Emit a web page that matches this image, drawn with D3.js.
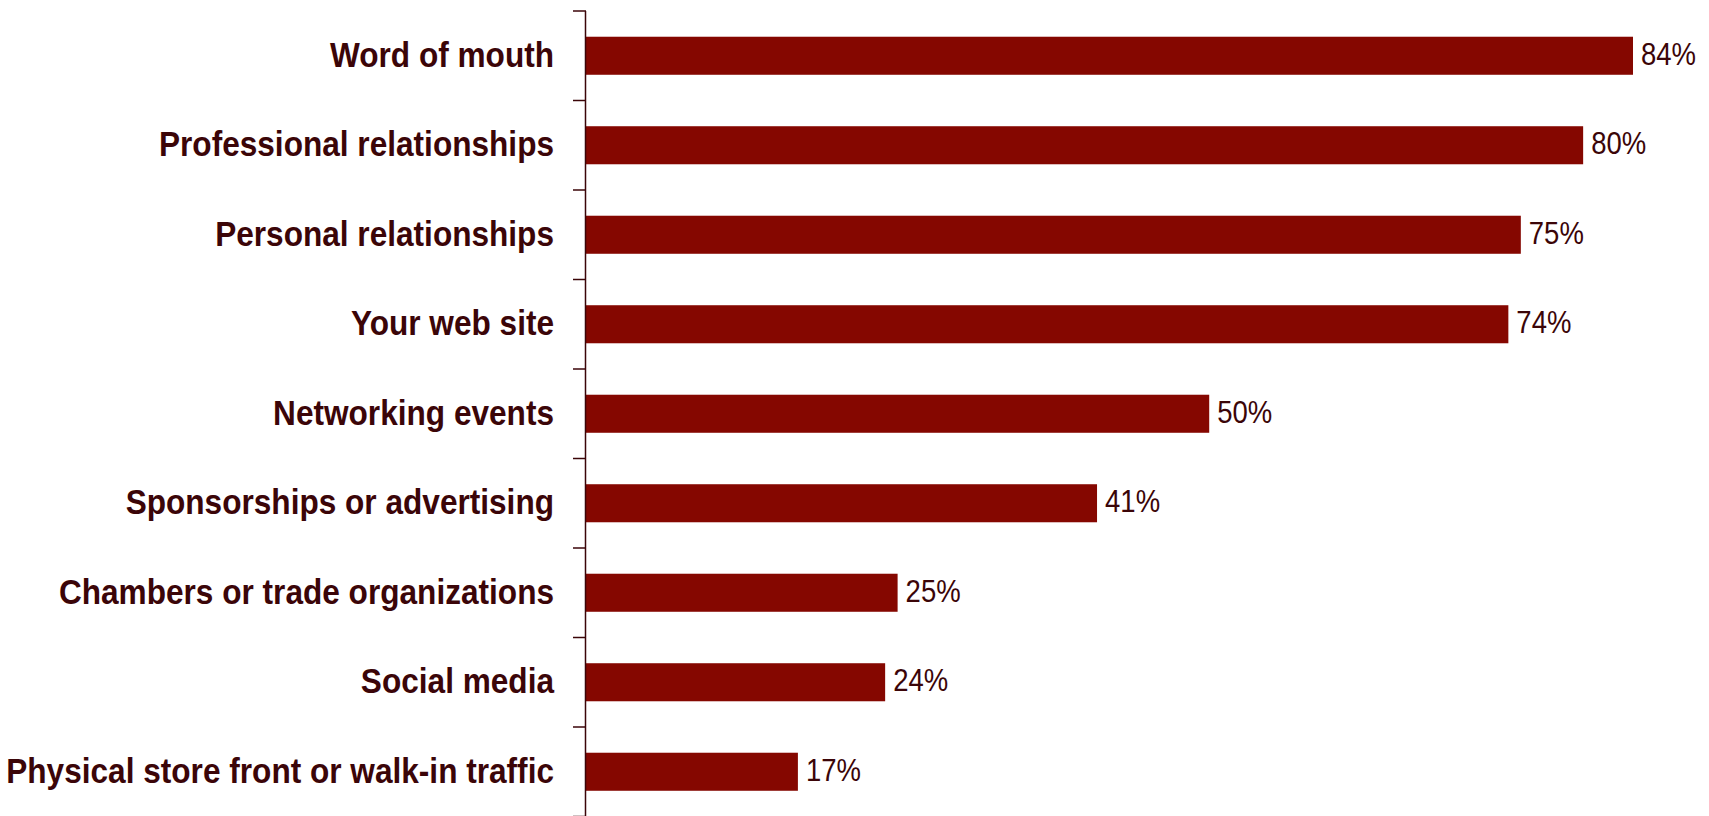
<!DOCTYPE html>
<html>
<head>
<meta charset="utf-8">
<script src="https://cdn.jsdelivr.net/npm/d3@7"></script>
<style>
  html, body { margin: 0; padding: 0; background: #ffffff; }
  svg { display: block; }
  .cat { font-family: "Liberation Sans", Arial, sans-serif; font-weight: bold; font-size: 36px; fill: #3b0508; }
  .val { font-family: "Liberation Sans", Arial, sans-serif; font-size: 32px; fill: #3b0508; }
</style>
</head>
<body>
<svg id="chart" width="1709" height="816"></svg>
<script>
// Sources of new business, share of respondents
const categories = [
  "Word of mouth",
  "Professional relationships",
  "Personal relationships",
  "Your web site",
  "Networking events",
  "Sponsorships or advertising",
  "Chambers or trade organizations",
  "Social media",
  "Physical store front or walk-in traffic"
];
const values = [84, 80, 75, 74, 50, 41, 25, 24, 17];

const width = 1709, height = 816;
const axisX = 586;
const svg = d3.select("#chart");

const x = d3.scaleLinear().domain([0, 84]).range([axisX, 1633]);
const y = d3.scaleBand().domain(categories).range([11, 816.5]).paddingInner(0.575).paddingOuter(0.2875);

const barColor = "#850700";
const axisColor = "#3b0508";
// narrow-face look: compress glyphs horizontally
const catSqueeze = 0.878;
const valSqueeze = 0.86;

svg.selectAll("rect.bar")
  .data(values)
  .join("rect")
  .attr("class", "bar")
  .attr("x", x(0))
  .attr("y", (d, i) => y(categories[i]))
  .attr("width", d => x(d) - x(0))
  .attr("height", y.bandwidth())
  .attr("fill", barColor);

// Category axis with ticks at band boundaries
const step = y.step();
const boundaries = d3.range(categories.length + 1).map(i => 11 + i * step);
const axisG = svg.append("g");
axisG.append("line")
  .attr("x1", axisX - 0.5).attr("x2", axisX - 0.5)
  .attr("y1", boundaries[0]).attr("y2", height)
  .attr("stroke", axisColor).attr("stroke-width", 1.5);
axisG.selectAll("line.tick")
  .data(boundaries)
  .join("line")
  .attr("class", "tick")
  .attr("x1", axisX - 13).attr("x2", axisX)
  .attr("y1", d => d).attr("y2", d => d)
  .attr("stroke", axisColor).attr("stroke-width", 1.5);

svg.selectAll("g.cat")
  .data(categories)
  .join("g")
  .attr("transform", d => `translate(${axisX - 32},${y(d) + y.bandwidth() / 2}) scale(${catSqueeze},1)`)
  .append("text")
  .attr("class", "cat")
  .attr("dy", "0.3em")
  .attr("text-anchor", "end")
  .text(d => d);

svg.selectAll("g.val")
  .data(values)
  .join("g")
  .attr("transform", (d, i) => `translate(${x(d) + 8},${y(categories[i]) + y.bandwidth() / 2}) scale(${valSqueeze},1)`)
  .append("text")
  .attr("class", "val")
  .attr("dy", "0.28em")
  .text(d => d + "%");
</script>
</body>
</html>
